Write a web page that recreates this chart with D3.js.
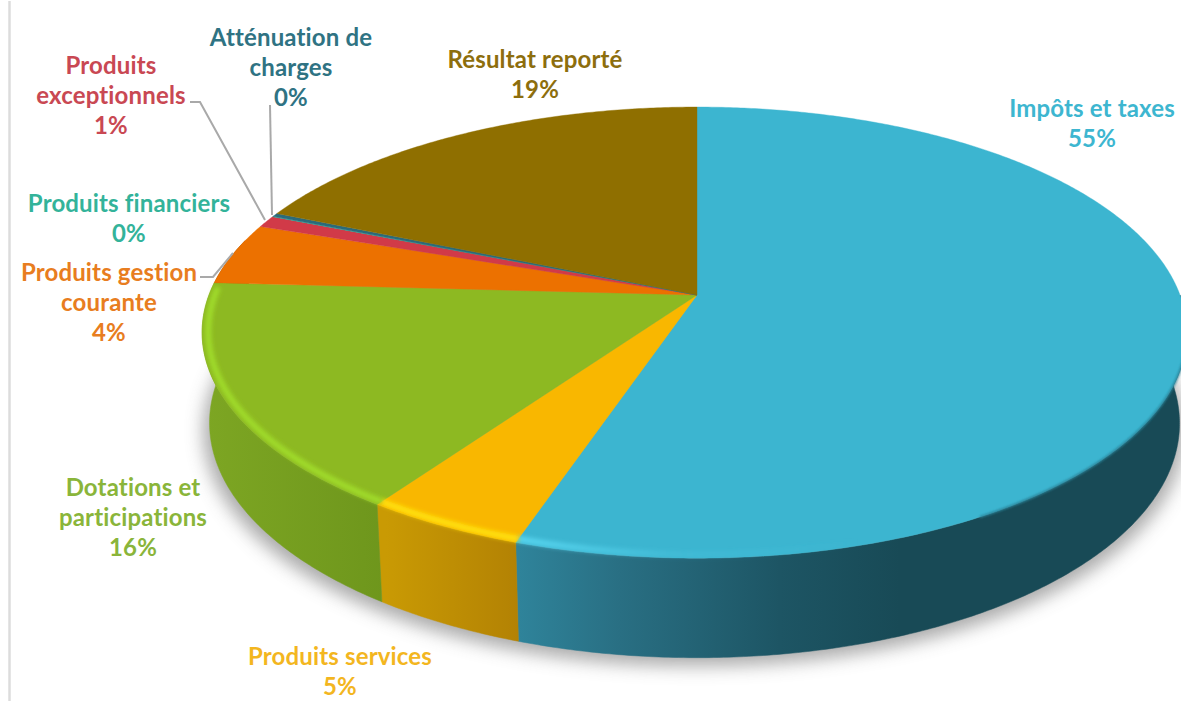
<!DOCTYPE html>
<html><head><meta charset="utf-8">
<style>html,body{margin:0;padding:0;background:#fff;overflow:hidden}
text{font-family:Lato,"Open Sans",sans-serif;font-weight:700;font-size:24px;letter-spacing:.15px;text-anchor:middle}</style>
<script src="https://cdnjs.cloudflare.com/ajax/libs/d3/7.8.5/d3.min.js"></script>
</head><body><svg id="c" width="1181" height="701"></svg>
<script>
const categories=["Impôts et taxes","Produits services","Dotations et participations","Produits gestion courante","Produits exceptionnels","Produits financiers","Atténuation de charges","Résultat reporté"];
const values=[55.08,4.51,16.31,4.45,0.85,0.03,0.25,18.52];
const topColors=["#3cb5d0","#f9b700","#8db922","#ec7100","#d13a48","#2cb59c","#2a6b7c","#8f6f00"];
const labelColors=["#3db6d0","#f3b61f","#8ab53a","#e87d20","#c94853","#33b39a","#2f7383","#8d6e0d"];
const bevelColors=["#58d6f0","#ffe10a","#a0dc2a","#ff9a20","#e85a66","#50d0b8","#3f90a5","#b09010"];
const wallStops=[
 [[515,"#2f849b"],[620,"#296f83"],[780,"#1d5564"],[900,"#184a56"],[1190,"#184a56"]],
 [[386,"#c99a04"],[518,"#b38204"]],
 [[205,"#7da623"],[386,"#6e961c"]],
 [[205,"#a85000"],[270,"#a85000"]],
 [[260,"#962a33"],[290,"#962a33"]],
 [[260,"#1f8270"],[290,"#1f8270"]],
 [[260,"#1e4d59"],[290,"#1e4d59"]],
 [[260,"#66500a"],[700,"#66500a"]]];
const labelLines=[["Impôts et taxes"],["Produits services"],["Dotations et","participations"],["Produits gestion","courante"],["Produits","exceptionnels"],["Produits financiers"],["Atténuation de","charges"],["Résultat reporté"]];
const labelX=[1092,340,133,109,111,129,291,535];
const labelY=[109,657,488,273,66,204,38,60];
const leaders=[[[190,102],[200,102],[265,220]],[[270,105],[272,215]],[[200,277],[213,277],[233,253]]];

const svg=d3.select("#c"), defs=svg.append("defs");
const cx=697, cy=295, S=219.3, k=0.1667, lowScale=0.985;
function project(a,r=1,low=false){
  const u=r*Math.sin(a), v=-r*Math.cos(a), w=1-k*v, R=485.5-2.5*u;
  let x=R*u/w, y=S*v/w;
  if(low){x*=lowScale; y=y*1.04+89;}
  return [cx+x,cy+y];
}
const line=d3.line();
const rad=d=>d*Math.PI/180;
const arcPts=(a0,a1,low=false,r=1)=>{const n=Math.max(2,Math.ceil((a1-a0)/rad(0.5)));
  return d3.range(n+1).map(i=>project(a0+(a1-a0)*i/n,r,low));};
const arcs=d3.pie().sort(null).value(d=>d)(values);

const fa={filterUnits:"userSpaceOnUse",x:0,y:0,width:1181,height:701};
const mk=(id,sd)=>{const f=defs.append("filter").attr("id",id);Object.entries(fa).forEach(([a,b])=>f.attr(a,b));f.append("feGaussianBlur").attr("stdDeviation",sd);};
mk("sh",9);mk("bv",1.9);mk("ed",1);

svg.append("line").attr("x1",9.5).attr("x2",9.5).attr("y1",1).attr("y2",701).attr("stroke","#dcdcdc").attr("stroke-width",2.5);

// soft ground shadow
svg.append("path").attr("d",line(arcPts(0,2*Math.PI,true).map(p=>[p[0]+(p[0]<cx?-6:5),p[1]+8]))+"Z")
  .attr("fill","#555").attr("opacity",.5).attr("filter","url(#sh)");

// walls
const vis0=rad(90), vis1=rad(285);
arcs.forEach((d,i)=>{
  const a0=Math.max(d.startAngle,vis0), a1=Math.min(d.endAngle,vis1);
  if(a1<=a0) return;
  const s=wallStops[i], x0=s[0][0], x1=s[s.length-1][0];
  const g=defs.append("linearGradient").attr("id","w"+i).attr("gradientUnits","userSpaceOnUse")
    .attr("x1",x0).attr("x2",x1).attr("y1",0).attr("y2",0);
  s.forEach(t=>g.append("stop").attr("offset",(t[0]-x0)/(x1-x0)).attr("stop-color",t[1]));
  const pts=arcPts(a0,a1).concat(arcPts(a0,a1,true).reverse());
  svg.append("path").attr("d",line(pts)+"Z").attr("fill",`url(#w${i})`).attr("stroke",`url(#w${i})`).attr("stroke-width",.5);
});

// top faces
arcs.forEach((d,i)=>{
  const pts=[[cx,cy]].concat(arcPts(d.startAngle,d.endAngle));
  svg.append("path").attr("d",line(pts)+"Z").attr("fill",topColors[i]).attr("stroke",topColors[i]).attr("stroke-width",.4);
});

// soft edge on the right of the rim
svg.append("path").attr("d",line(arcPts(rad(102),rad(150)))).attr("fill","none").attr("stroke","#2a8399").attr("stroke-width",2).attr("filter","url(#ed)");

// bevel highlight along the near rim
const bevelFade=defs.append("linearGradient").attr("id","bl").attr("gradientUnits","userSpaceOnUse").attr("x1",515).attr("x2",860).attr("y1",0).attr("y2",0);
bevelFade.append("stop").attr("offset",0).attr("stop-color",bevelColors[0]);
bevelFade.append("stop").attr("offset",.45).attr("stop-color",bevelColors[0]).attr("stop-opacity",.2);
bevelFade.append("stop").attr("offset",1).attr("stop-color",bevelColors[0]).attr("stop-opacity",0);
arcs.slice(0,3).forEach((d,i)=>{
  const a0=Math.max(d.startAngle,rad(120)), a1=Math.min(d.endAngle,rad(272));
  svg.append("path").attr("d",line(arcPts(a0,a1,false,.988))).attr("fill","none").attr("stroke",i==0?"url(#bl)":bevelColors[i])
    .attr("stroke-width",6).attr("filter","url(#bv)");
});

// leaders
leaders.forEach(p=>svg.append("path").attr("d",line(p)).attr("fill","none").attr("stroke","#a9a9a9").attr("stroke-width",2));

// labels
const pct=d3.format(".0%"), total=d3.sum(values);
categories.forEach((c,i)=>{
  const rows=labelLines[i].concat(pct(values[i]/total));
  const t=svg.append("text").attr("fill",labelColors[i]);
  rows.forEach((r,j)=>t.append("tspan").attr("x",labelX[i]).attr("y",labelY[i]+j*30).attr("dy","0.35em").text(r));
});
</script></body></html>
